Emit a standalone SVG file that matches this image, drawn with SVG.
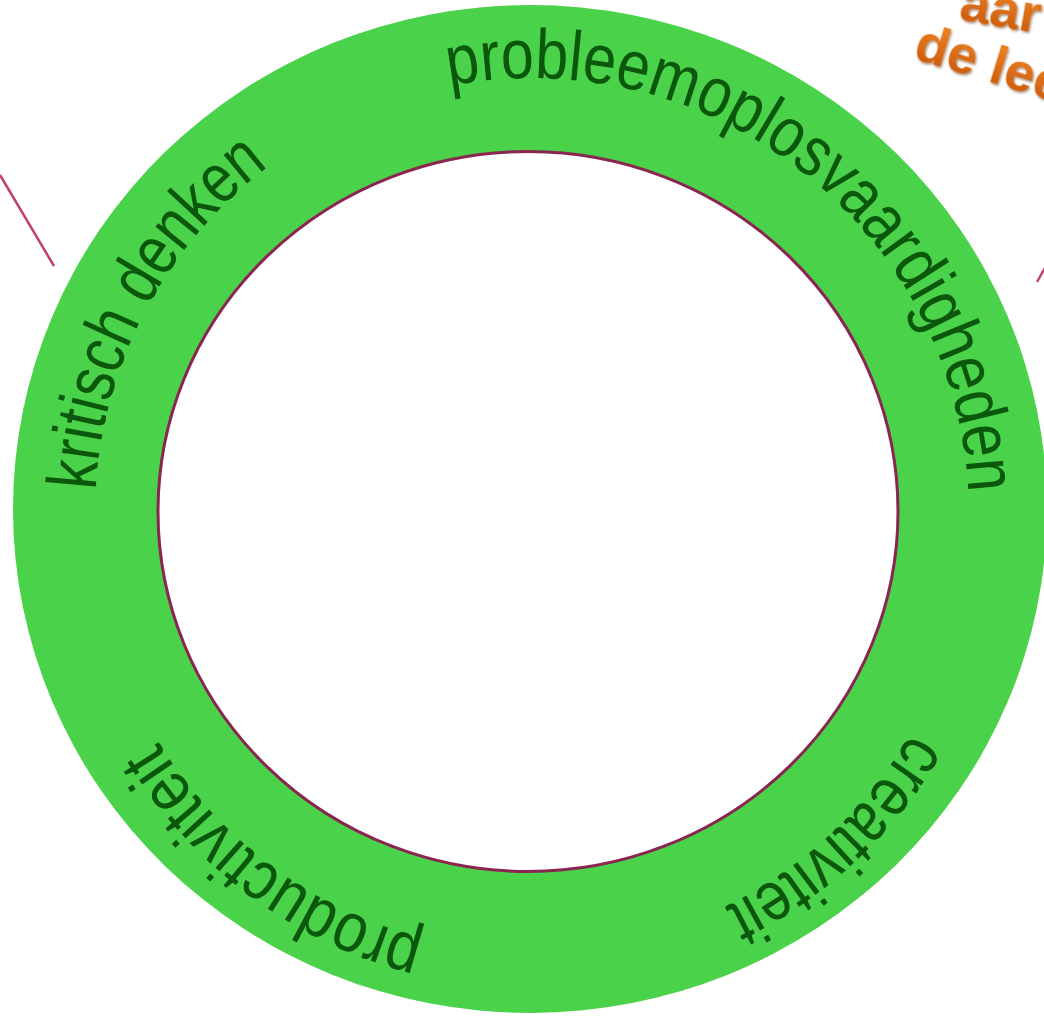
<svg xmlns="http://www.w3.org/2000/svg" width="1044" height="1019" viewBox="0 0 1044 1019">
  <style>
    .lbl { font-family: "Liberation Sans", Arial, sans-serif; font-size: 70px; fill: #0B570B; }
    .org { font-family: "Liberation Sans", Arial, sans-serif; font-size: 54px; font-weight: bold; fill: url(#og); filter: url(#sh); }
    .conn { stroke: #C2406C; stroke-width: 2.5; fill: none; }
  </style>
  <defs>
    <linearGradient id="og" x1="0" y1="0" x2="0" y2="1">
      <stop offset="0" stop-color="#F28A2A"/>
      <stop offset="1" stop-color="#C85406"/>
    </linearGradient>
    <filter id="sh" x="-10%" y="-10%" width="130%" height="140%">
      <feDropShadow dx="1.5" dy="1.5" stdDeviation="1" flood-color="#5a2a00" flood-opacity="0.55"/>
    </filter>
    <path id="pK" d="M95.7,490.2 A437,437 0 0 1 333.6,125.6"/>
    <path id="pP" d="M449.4,85.9 A437,437 0 0 1 964.7,575.8"/>
    <path id="pC" d="M910.8,732.8 A437,437 0 0 1 645.1,937.1"/>
    <path id="pD" d="M424.1,938.5 A437,437 0 0 1 121.4,664.5"/>
  </defs>
  <rect width="1044" height="1019" fill="#FFFFFF"/>

  <g id="connectors">
    <line class="conn" x1="0" y1="175" x2="54" y2="266"/>
    <line class="conn" x1="1037" y1="282" x2="1046" y2="266"/>
  </g>

  <g id="ring">
    <ellipse cx="530" cy="509" rx="517" ry="504" fill="#4AD24A"/>
    <ellipse cx="528" cy="511.5" rx="370" ry="360" fill="#FFFFFF" stroke="#8A2450" stroke-width="3"/>
  </g>

  <g id="label-kritisch-denken">
    <text class="lbl"><textPath href="#pK" textLength="379" lengthAdjust="spacingAndGlyphs">kritisch denken</textPath></text>
  </g>
  <g id="label-probleemoplosvaardigheden">
    <text class="lbl"><textPath href="#pP" textLength="747" lengthAdjust="spacingAndGlyphs">probleemoplosvaardigheden</textPath></text>
  </g>
  <g id="label-creativiteit">
    <text class="lbl"><textPath href="#pC" textLength="259" lengthAdjust="spacingAndGlyphs">creativiteit</textPath></text>
  </g>
  <g id="label-productiviteit">
    <text class="lbl"><textPath href="#pD" textLength="339" lengthAdjust="spacingAndGlyphs">productiviteit</textPath></text>
  </g>

  <g id="orange-title">
    <text class="org" transform="translate(958,19) rotate(10)">aar</text>
    <text class="org" transform="translate(912,58) rotate(17)">de lee</text>
  </g>
</svg>
